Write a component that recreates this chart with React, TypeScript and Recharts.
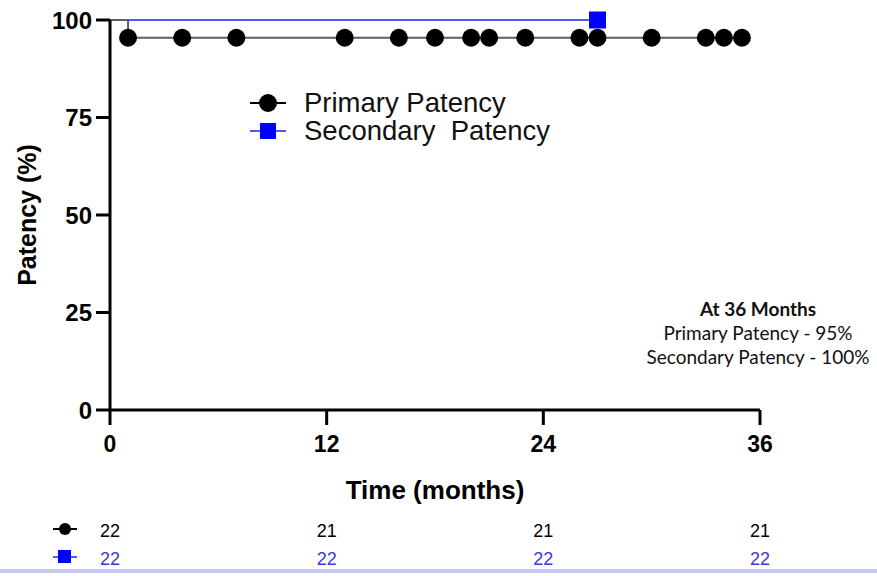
import React from "react";
import { ComposedChart, Line, Scatter, XAxis, YAxis } from "recharts";

document.body.style.margin = "0";

// survival curve steps (months, %)
const primaryCurve = [
  { t: 0, v: 100 },
  { t: 1, v: 95.45 },
  { t: 35, v: 95.45 },
];
const secondaryCurve = [
  { t: 0, v: 100 },
  { t: 27, v: 100 },
];
// censored observations
const primaryCensorTimes = [1, 4, 7, 13, 16, 18, 20, 21, 23, 26, 27, 30, 33, 34, 35];
const primaryCensored = primaryCensorTimes.map((t) => ({ t, v: 95.45 }));
const secondaryCensored = [{ t: 27, v: 100 }];

const xTicks = [0, 12, 24, 36];
const yTicks = [0, 25, 50, 75, 100];
const riskPrimary = [22, 21, 21, 21];
const riskSecondary = [22, 22, 22, 22];
// anchor rows so the number-at-risk axes have a series of their own
const riskAnchor = xTicks.map((t) => ({ t, v: 0 }));

const GREY = "#5f5f5f";
const BLUE_LINE = "#4f5cf0";
const BLUE = "#0000ff";
const RISK_BLUE = "#3a3ad0";
const SANS = "'Liberation Sans', Arial, sans-serif";

const tickFont = {
  fontFamily: SANS,
  fontWeight: 700,
  fontSize: 23,
  fill: "#000",
};

function CircleMark(props: any) {
  return <circle cx={props.cx} cy={props.cy} r={9} fill="#000" />;
}
function SquareMark(props: any) {
  return <rect x={props.cx - 8.5} y={props.cy - 8.5} width={17} height={17} fill={BLUE} />;
}

function riskTick(counts: number[], color: string, square: boolean) {
  return (props: any) => {
    const { x, y, payload, index } = props;
    const cy = y + 26;
    const i = xTicks.indexOf(payload.value);
    return (
      <g>
        {index === 0 && (
          <g>
            <line x1={x - 57} x2={x - 33} y1={cy - 2} y2={cy - 2} stroke={square ? BLUE_LINE : "#000"} strokeWidth={2} />
            {square ? (
              <rect x={x - 52} y={cy - 9} width={13} height={13} fill={BLUE} />
            ) : (
              <circle cx={x - 45} cy={cy - 2} r={6} fill="#000" />
            )}
          </g>
        )}
        <text x={x} y={cy} textAnchor="middle" dominantBaseline="central" fill={color} fontSize={18} fontFamily={SANS}>
          {counts[i]}
        </text>
      </g>
    );
  };
}

function PatencyLegend() {
  const row = (label: string, square: boolean) => (
    <div style={{ display: "flex", alignItems: "center", height: 28 }}>
      <svg width={56} height={24}>
        <line x1={2} x2={38} y1={12} y2={12} stroke={square ? BLUE_LINE : "#000"} strokeWidth={2} />
        {square ? <rect x={12} y={4} width={16} height={16} fill={BLUE} /> : <circle cx={20} cy={12} r={9} fill="#000" />}
      </svg>
      <span style={{ fontSize: 27.5, color: "#111", whiteSpace: "pre" }}>{label}</span>
    </div>
  );
  return (
    <div style={{ position: "absolute", top: 89, left: 248, fontFamily: SANS }}>
      {row("Primary Patency", false)}
      {row("Secondary  Patency", true)}
    </div>
  );
}

export default function App() {
  return (
    <div style={{ position: "relative", width: 877, height: 576, background: "#fff", overflow: "hidden" }}>
      <ComposedChart width={877} height={576} margin={{ top: 20, right: 117, left: 0, bottom: 15 }}>
        <XAxis
          dataKey="t"
          type="number"
          domain={[0, 36]}
          ticks={xTicks}
          axisLine={{ stroke: "#000", strokeWidth: 3 }}
          tickLine={{ stroke: "#000", strokeWidth: 3 }}
          tickSize={15}
          tickMargin={11}
          tick={tickFont}
          height={95}
          label={{
            value: "Time (months)",
            position: "insideBottom",
            offset: 6,
            style: { ...tickFont, fontSize: 26 },
          }}
        />
        <XAxis
          xAxisId="r1"
          dataKey="t"
          type="number"
          domain={[0, 36]}
          ticks={xTicks}
          axisLine={false}
          tickLine={false}
          tickSize={0}
          tickMargin={0}
          height={28}
          tick={riskTick(riskPrimary, "#000", false)}
        />
        <XAxis
          xAxisId="r2"
          dataKey="t"
          type="number"
          domain={[0, 36]}
          ticks={xTicks}
          axisLine={false}
          tickLine={false}
          tickSize={0}
          tickMargin={0}
          height={28}
          tick={riskTick(riskSecondary, RISK_BLUE, true)}
        />
        <YAxis
          dataKey="v"
          type="number"
          domain={[0, 100]}
          ticks={yTicks}
          width={110}
          axisLine={{ stroke: "#000", strokeWidth: 3 }}
          tickLine={{ stroke: "#000", strokeWidth: 3 }}
          tickSize={14}
          tickMargin={4}
          tick={{ ...tickFont, fontSize: 24 }}
          label={{
            value: "Patency (%)",
            angle: -90,
            position: "insideLeft",
            offset: 27,
            style: { ...tickFont, fontSize: 25, textAnchor: "middle" },
          }}
        />
        <Line xAxisId="r1" data={riskAnchor} dataKey="v" stroke="none" dot={false} isAnimationActive={false} />
        <Line xAxisId="r2" data={riskAnchor} dataKey="v" stroke="none" dot={false} isAnimationActive={false} />
        <Line
          data={secondaryCurve}
          dataKey="v"
          type="stepAfter"
          stroke={BLUE_LINE}
          strokeWidth={2}
          dot={false}
          isAnimationActive={false}
        />
        <Line
          data={primaryCurve}
          dataKey="v"
          type="stepAfter"
          stroke={GREY}
          strokeWidth={2}
          dot={false}
          isAnimationActive={false}
        />
        <Scatter data={primaryCensored} dataKey="v" shape={CircleMark} isAnimationActive={false} />
        <Scatter data={secondaryCensored} dataKey="v" shape={SquareMark} isAnimationActive={false} />
      </ComposedChart>
      <PatencyLegend />
      <div
        style={{
          position: "absolute",
          left: 623,
          top: 297,
          width: 270,
          textAlign: "center",
          whiteSpace: "nowrap",
          fontFamily: "Lato, 'Open Sans', sans-serif",
          fontSize: 19,
          lineHeight: "24px",
          color: "#111",
        }}
      >
        <div style={{ fontWeight: 700 }}>At 36 Months</div>
        <div>Primary Patency - 95%</div>
        <div>Secondary Patency - 100%</div>
      </div>
      <div style={{ position: "absolute", left: 0, top: 569, width: 877, height: 4, background: "#c8caf0" }} />
    </div>
  );
}
